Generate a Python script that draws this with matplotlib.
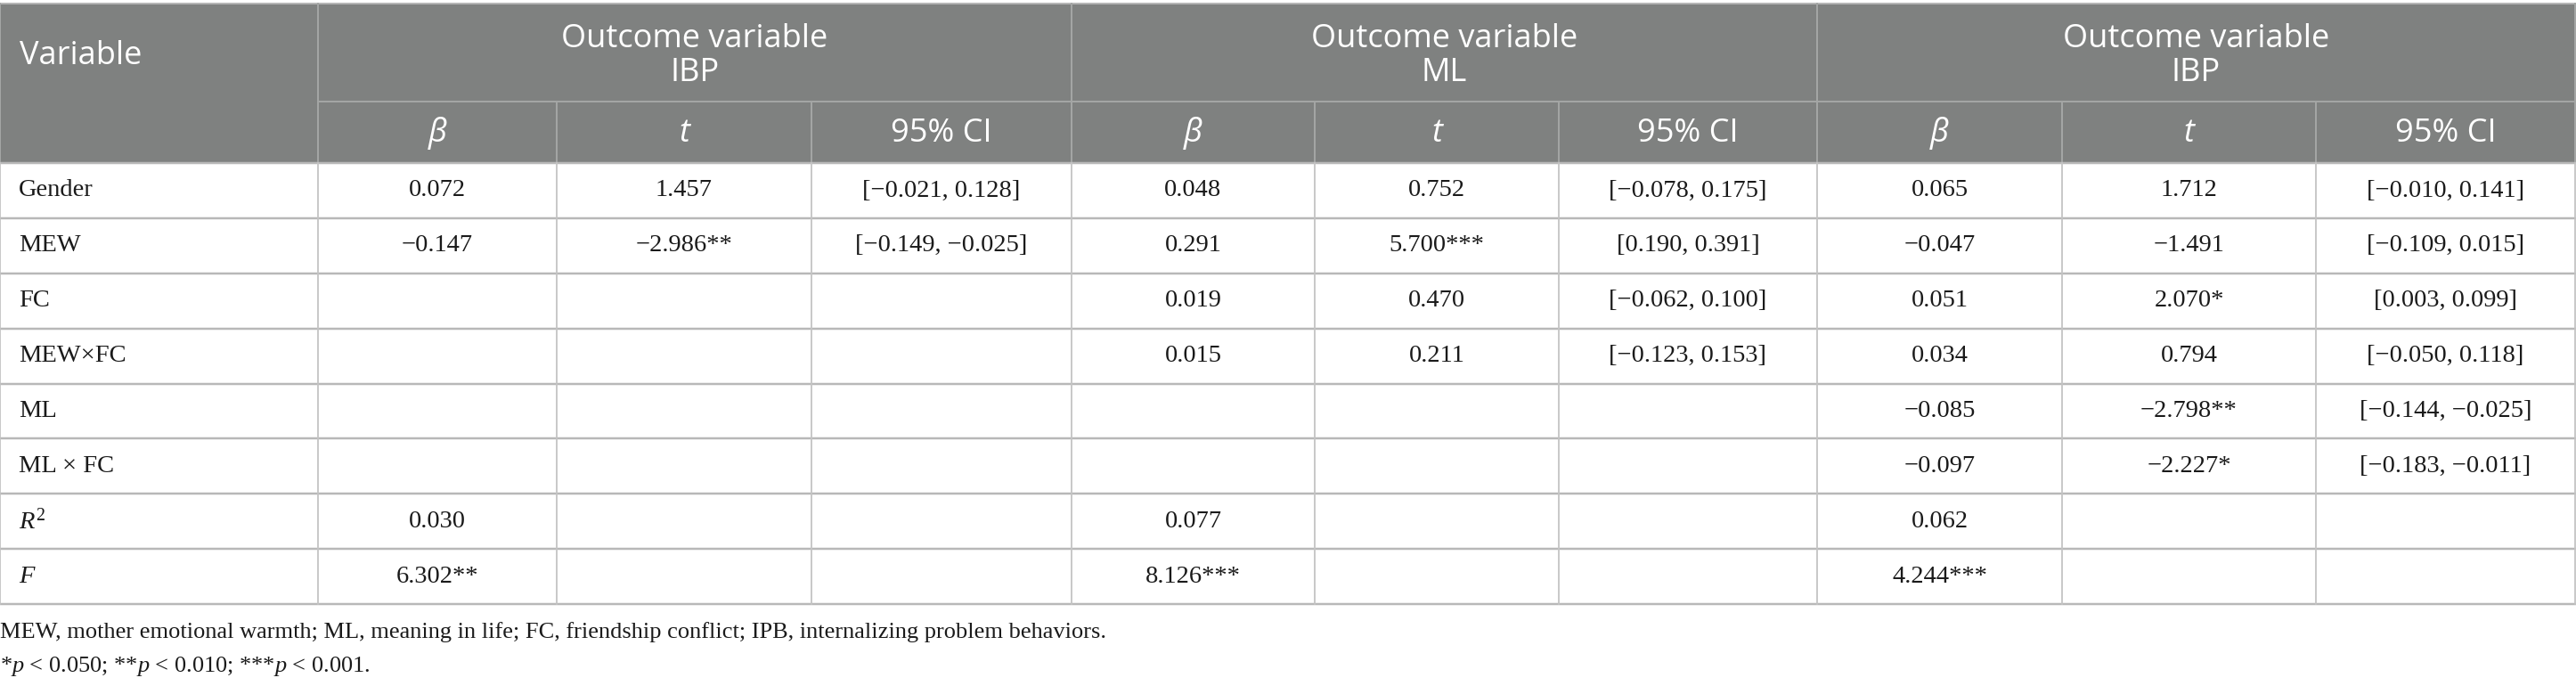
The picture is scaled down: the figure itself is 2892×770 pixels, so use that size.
import matplotlib
matplotlib.use("Agg")
import matplotlib.pyplot as plt

plt.rcParams['mathtext.fontset'] = 'custom'
plt.rcParams['mathtext.rm'] = 'Liberation Serif'
plt.rcParams['mathtext.it'] = 'Liberation Serif:italic'

# ---------------- data ----------------
group_titles = ["Outcome variable\nIBP", "Outcome variable\nML", "Outcome variable\nIBP"]
sub_headers = ["β", "t", "95% CI"]
variables = ["Gender", "MEW", "FC", "MEW×FC", "ML", "ML × FC"]

m1_beta = [0.072, -0.147, None, None, None, None]
m1_t = [1.457, -2.986, None, None, None, None]
m1_t_sig = ["", "**", "", "", "", ""]
m1_ci = [(-0.021, 0.128), (-0.149, -0.025), None, None, None, None]
m1_r2 = 0.030
m1_f = 6.302
m1_f_sig = "**"

m2_beta = [0.048, 0.291, 0.019, 0.015, None, None]
m2_t = [0.752, 5.700, 0.470, 0.211, None, None]
m2_t_sig = ["", "***", "", "", "", ""]
m2_ci = [(-0.078, 0.175), (0.190, 0.391), (-0.062, 0.100), (-0.123, 0.153), None, None]
m2_r2 = 0.077
m2_f = 8.126
m2_f_sig = "***"

m3_beta = [0.065, -0.047, 0.051, 0.034, -0.085, -0.097]
m3_t = [1.712, -1.491, 2.070, 0.794, -2.798, -2.227]
m3_t_sig = ["", "", "*", "", "**", "*"]
m3_ci = [(-0.010, 0.141), (-0.109, 0.015), (0.003, 0.099), (-0.050, 0.118),
         (-0.144, -0.025), (-0.183, -0.011)]
m3_r2 = 0.062
m3_f = 4.244
m3_f_sig = "***"

footnote1 = "MEW, mother emotional warmth; ML, meaning in life; FC, friendship conflict; IPB, internalizing problem behaviors."
footnote2 = r"*$\mathit{p}$ < 0.050; **$\mathit{p}$ < 0.010; ***$\mathit{p}$ < 0.001."

models = [
    (m1_beta, m1_t, m1_t_sig, m1_ci, m1_r2, m1_f, m1_f_sig),
    (m2_beta, m2_t, m2_t_sig, m2_ci, m2_r2, m2_f, m2_f_sig),
    (m3_beta, m3_t, m3_t_sig, m3_ci, m3_r2, m3_f, m3_f_sig),
]


def fmt(v):
    return f"{v:.3f}".replace("-", "\u2212")


# ---------------- layout ----------------
W, H = 2892, 770
fig = plt.figure(figsize=(W / 100, H / 100), dpi=100)
ax = fig.add_axes([0, 0, 1, 1])
ax.set_xlim(0, W)
ax.set_ylim(H, 0)
ax.axis("off")

col_x = [0, 357, 625, 911, 1203, 1476, 1750, 2040, 2315, 2600, 2891]
y_top, y_mid, y_head = 4, 114, 183
y_bottom = 678
n_rows = len(variables) + 2
row_h = (y_bottom - y_head) / n_rows
row_y = [y_head + i * row_h for i in range(n_rows + 1)]

header_bg = "#7f8180"
header_line = "#a3a5a4"
body_hline = "#b8b8b8"
body_vline = "#c4c4c4"
txt = "#1a1a1a"

PX = 0.72  # points per pixel

ax.add_patch(plt.Rectangle((0, y_top), W, y_head - y_top, color=header_bg, lw=0, zorder=0))

# header lines
ax.plot([0, W], [y_top, y_top], color="#b5b5b5", lw=2 * PX, zorder=2)
ax.plot([col_x[1], W], [y_mid, y_mid], color=header_line, lw=2 * PX, zorder=2)
for i, x in enumerate(col_x):
    if i in (0, 1, 4, 7, 10):
        ax.plot([x, x], [y_top, y_head], color=header_line, lw=2 * PX, zorder=2)
    else:
        ax.plot([x, x], [y_mid, y_head], color=header_line, lw=2 * PX, zorder=2)

# body lines
for y in row_y:
    ax.plot([0, W], [y, y], color=body_hline, lw=2.5 * PX, zorder=2)
for x in col_x:
    ax.plot([x, x], [y_head, y_bottom], color=body_vline, lw=1.8 * PX, zorder=2)

hfont = dict(family="Open Sans", color="white", fontsize=26)
ax.text(22, 63, "Variable", ha="left", va="center", **hfont)
for g, title in enumerate(group_titles):
    xc = (col_x[1 + 3 * g] + col_x[4 + 3 * g]) / 2
    ax.text(xc, 63, title, ha="center", va="center", linespacing=1.05, **hfont)
    for k, sh in enumerate(sub_headers):
        xs = (col_x[1 + 3 * g + k] + col_x[2 + 3 * g + k]) / 2
        style = "italic" if sh in ("β", "t") else "normal"
        ax.text(xs, 150, sh, ha="center", va="center", style=style, **hfont)

bfont = dict(family="Liberation Serif", color=txt, fontsize=20.5)
for r, name in enumerate(variables):
    yc = (row_y[r] + row_y[r + 1]) / 2
    ax.text(21, yc, name, ha="left", va="center", **bfont)
    for g, (beta, tv, tsig, ci, r2, fv, fsig) in enumerate(models):
        cx = [(col_x[1 + 3 * g + k] + col_x[2 + 3 * g + k]) / 2 for k in range(3)]
        if beta[r] is not None:
            ax.text(cx[0], yc, fmt(beta[r]), ha="center", va="center", **bfont)
        if tv[r] is not None:
            ax.text(cx[1], yc, fmt(tv[r]) + tsig[r], ha="center", va="center", **bfont)
        if ci[r] is not None:
            ax.text(cx[2], yc, f"[{fmt(ci[r][0])}, {fmt(ci[r][1])}]",
                    ha="center", va="center", **bfont)

# R2 and F rows
r = len(variables)
yc = (row_y[r] + row_y[r + 1]) / 2
ax.text(21, yc, r"$\mathit{R}^{2}$", ha="left", va="center", **bfont)
yc2 = (row_y[r + 1] + row_y[r + 2]) / 2
ax.text(21, yc2, r"$\mathit{F}$", ha="left", va="center", **bfont)
for g, (beta, tv, tsig, ci, r2, fv, fsig) in enumerate(models):
    cx = (col_x[1 + 3 * g] + col_x[2 + 3 * g]) / 2
    ax.text(cx, yc, fmt(r2), ha="center", va="center", **bfont)
    ax.text(cx, yc2, fmt(fv) + fsig, ha="center", va="center", **bfont)

ffont = dict(family="Liberation Serif", color=txt, fontsize=19)
ax.text(0, 710, footnote1, ha="left", va="center", **ffont)
ax.text(0, 748, footnote2, ha="left", va="center", **ffont)

fig.savefig("out.png", dpi=100, facecolor="white")
